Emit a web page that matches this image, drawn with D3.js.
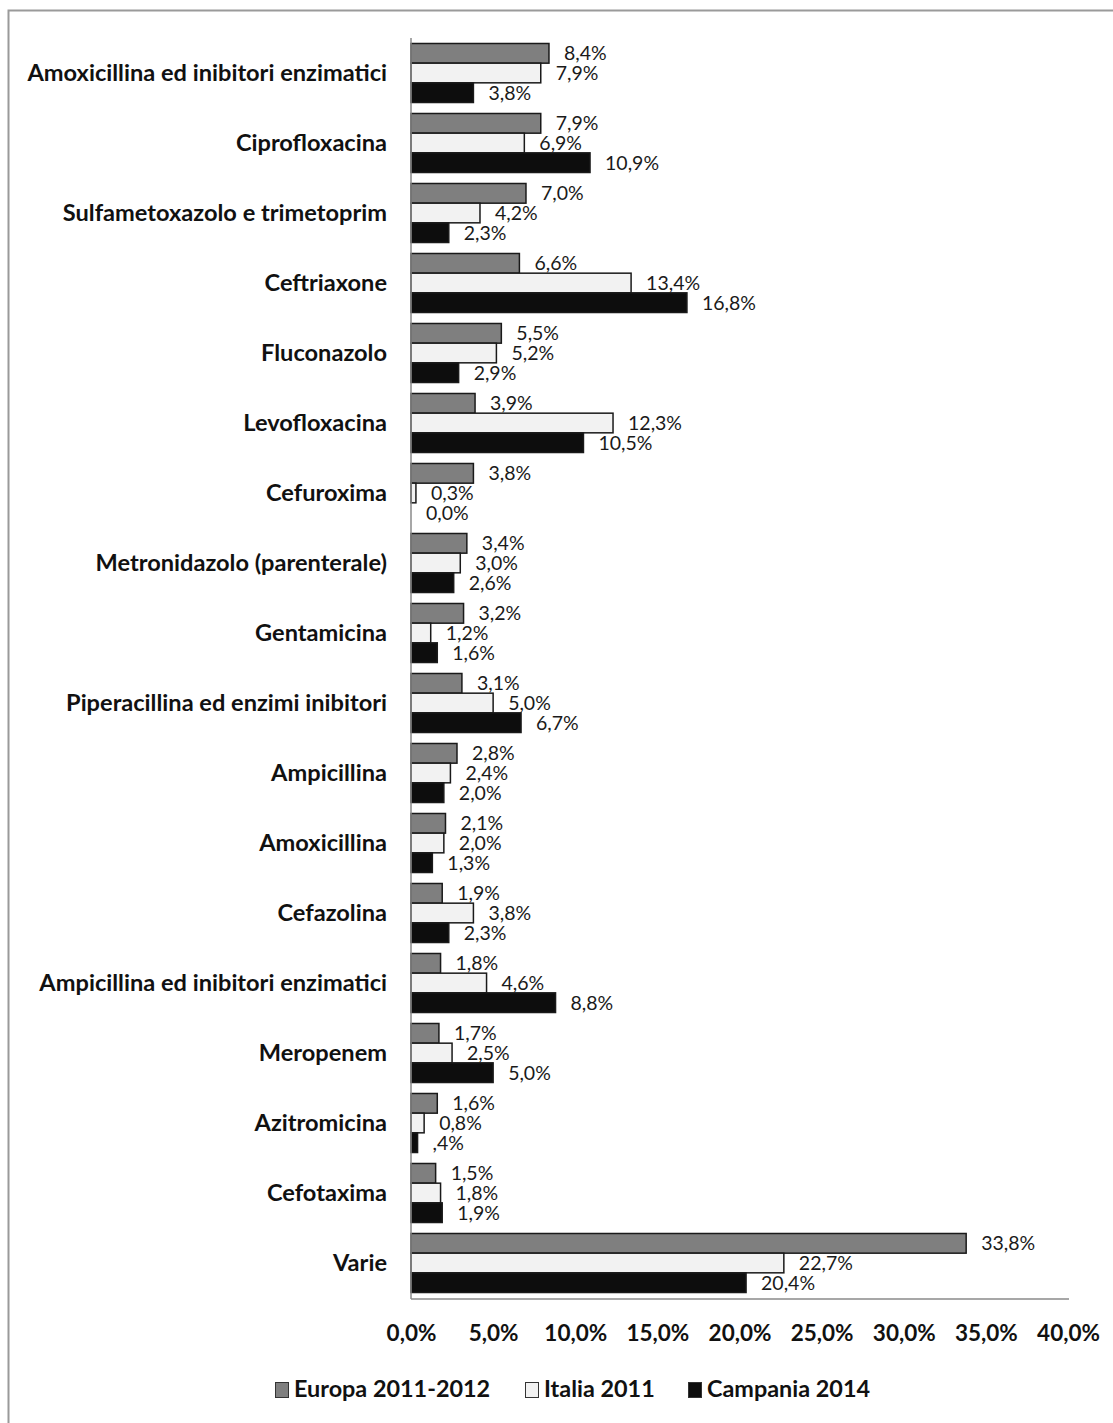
<!DOCTYPE html>
<html><head><meta charset="utf-8">
<script src="https://cdn.jsdelivr.net/npm/d3@7"></script>
<style>body{margin:0;background:#fff}svg{display:block}</style>
</head><body>
<svg id="c" width="1113" height="1423"></svg>
<script>
const categories = ["Amoxicillina ed inibitori enzimatici","Ciprofloxacina","Sulfametoxazolo e trimetoprim","Ceftriaxone","Fluconazolo","Levofloxacina","Cefuroxima","Metronidazolo (parenterale)","Gentamicina","Piperacillina ed enzimi inibitori","Ampicillina","Amoxicillina","Cefazolina","Ampicillina ed inibitori enzimatici","Meropenem","Azitromicina","Cefotaxima","Varie"];
const seriesNames = ["Europa 2011-2012","Italia 2011","Campania 2014"];
const europa   = [8.4,7.9,7.0,6.6,5.5,3.9,3.8,3.4,3.2,3.1,2.8,2.1,1.9,1.8,1.7,1.6,1.5,33.8];
const italia   = [7.9,6.9,4.2,13.4,5.2,12.3,0.3,3.0,1.2,5.0,2.4,2.0,3.8,4.6,2.5,0.8,1.8,22.7];
const campania = [3.8,10.9,2.3,16.8,2.9,10.5,0.0,2.6,1.6,6.7,2.0,1.3,2.3,8.8,5.0,0.4,1.9,20.4];
const campaniaLabelOverride = {"Azitromicina": ",4%"};
const xTicks = [0,5,10,15,20,25,30,35,40];

const fills = ["#7f7f7f","#f2f2f2","#0d0d0d"];
const seriesValues = [europa, italia, campania];
const fmt = v => d3.format(".1f")(v).replace(".", ",") + "%";

const svg = d3.select("#c");
svg.append("rect").attr("x",8.5).attr("y",10.5).attr("width",1120).attr("height",1430)
  .attr("fill","#fff").attr("stroke","#9a9a9a").attr("stroke-width",2);

const x = d3.scaleLinear().domain([0,40]).range([411,1068]);
const y = d3.scaleBand().domain(categories).range([38,1298]).paddingInner(0.157).paddingOuter(0.0785);
const ys = d3.scaleBand().domain(seriesNames).range([0,y.bandwidth()]);

const font = "Lato, 'Open Sans', sans-serif";

const data = [];
categories.forEach((c,i)=>{
  seriesNames.forEach((s,j)=>{
    let lbl = fmt(seriesValues[j][i]);
    if (j===2 && campaniaLabelOverride[c]) lbl = campaniaLabelOverride[c];
    data.push({cat:c, s, j, v:seriesValues[j][i], lbl});
  });
});

const g = svg.append("g");
g.selectAll("rect.bar").data(data.filter(d=>d.v>0)).join("rect").attr("class","bar")
  .attr("x", x(0)).attr("y", d=>y(d.cat)+ys(d.s))
  .attr("width", d=>x(d.v)-x(0)).attr("height", ys.bandwidth())
  .attr("fill", d=>fills[d.j]).attr("stroke","#1a1a1a").attr("stroke-width",1.5);

g.selectAll("text.val").data(data).join("text").attr("class","val")
  .attr("x", d=>x(d.v)+15).attr("y", d=>y(d.cat)+ys(d.s)+ys.bandwidth()/2+2)
  .attr("dominant-baseline","middle")
  .attr("font-family",font).attr("font-size",19.5).attr("fill","#1a1a1a")
  .text(d=>d.lbl);

// category labels
const yAxis = d3.axisLeft(y).tickSize(0).tickPadding(24);
const ya = svg.append("g").attr("transform",`translate(${x(0)},0)`).call(yAxis);
ya.select(".domain").remove();
ya.selectAll("text").attr("font-family",font).attr("font-size",23.6).attr("font-weight","bold").attr("fill","#111");

// axis lines
svg.append("line").attr("x1",x(0)).attr("x2",x(0)).attr("y1",38).attr("y2",1299).attr("stroke","#8a8a8a").attr("stroke-width",1.5);
svg.append("line").attr("x1",x(0)).attr("x2",x(40)+1).attr("y1",1299).attr("y2",1299).attr("stroke","#8a8a8a").attr("stroke-width",1.5);

const xAxis = d3.axisBottom(x).tickValues(xTicks).tickSize(0).tickPadding(26).tickFormat(fmt);
const xa = svg.append("g").attr("transform","translate(0,1299)").call(xAxis);
xa.select(".domain").remove();
xa.selectAll("text").attr("font-family",font).attr("font-size",22.5).attr("font-weight","bold").attr("fill","#111");

// legend
const legendX = [275, 525, 688];
const lg = svg.append("g");
seriesNames.forEach((s,j)=>{
  lg.append("rect").attr("x",legendX[j]+0.5).attr("y",1382.5).attr("width",13).attr("height",15)
    .attr("fill",fills[j]).attr("stroke","#333").attr("stroke-width",1);
  lg.append("text").attr("x",legendX[j]+19).attr("y",1391).attr("dominant-baseline","middle")
    .attr("font-family",font).attr("font-size",23.4).attr("font-weight","bold").attr("fill","#111").text(s);
});
</script>
</body></html>
